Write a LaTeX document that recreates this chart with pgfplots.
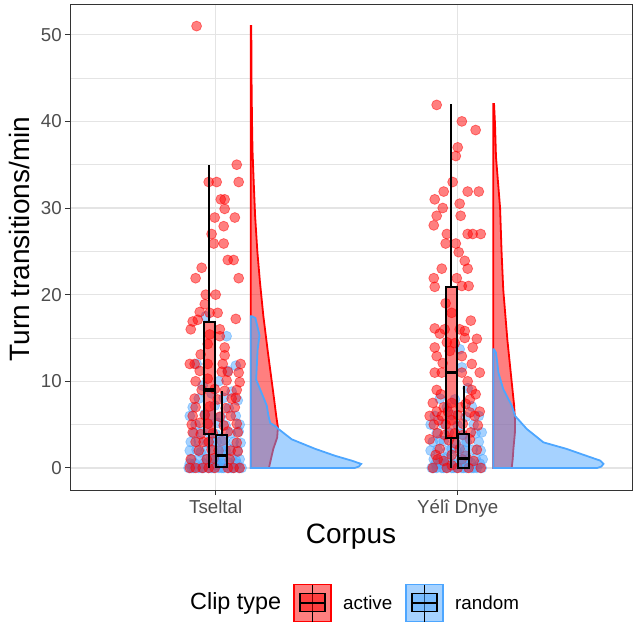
\documentclass[border=0pt]{standalone}
\usepackage{fontspec}
\setmainfont{Liberation Sans}
\usepackage{pgfplots}
\usepackage{pgfplotstable}
\pgfplotsset{compat=1.18}

\definecolor{actred}{RGB}{255,0,0}
\definecolor{randblue}{RGB}{77,166,255}
\definecolor{gridgray}{RGB}{228,228,228}
\definecolor{ticktext}{RGB}{77,77,77}
\definecolor{framegray}{RGB}{51,51,51}

% jittered points: x = category + jitter, y = turn transitions/min
\pgfplotstableread{
x y
0.921 51.0
1.087 35.0
0.971 33.0
1.004 33.0
1.095 33.0
1.021 31.0
1.037 31.0
1.037 29.9
0.996 28.9
1.079 28.9
1.033 27.9
0.983 27.0
0.992 25.9
1.033 25.9
1.050 24.0
1.074 24.0
0.942 23.1
0.917 21.9
1.095 21.9
0.959 20.0
1.000 20.0
0.955 18.9
0.934 18.0
0.975 17.9
1.008 17.9
1.083 17.2
0.926 17.1
0.905 16.9
0.897 16.0
1.017 16.0
0.975 15.4
1.017 15.2
0.967 14.3
1.037 13.9
0.938 13.1
1.037 13.0
0.893 12.0
0.913 12.0
0.967 12.0
1.029 12.0
1.103 12.0
1.025 11.1
1.050 11.1
1.095 11.0
0.934 11.2
0.917 10.0
1.045 10.1
0.967 10.3
1.099 9.9
1.087 9.0
0.942 9.0
0.996 9.1
1.037 8.9
1.066 8.0
1.083 8.1
0.913 8.0
1.008 7.9
0.917 7.0
0.975 7.1
1.079 7.0
1.041 6.9
0.905 6.0
1.062 6.0
0.955 6.1
1.017 5.9
0.967 5.1
1.087 5.1
0.901 5.0
0.934 5.2
1.033 4.9
0.905 4.1
1.091 4.1
0.988 4.0
1.050 4.2
0.938 3.9
0.917 3.0
0.971 3.0
1.025 3.1
1.087 2.9
0.950 3.0
1.062 2.0
0.930 2.0
0.983 2.1
1.091 1.9
1.012 2.0
0.897 1.0
0.963 1.0
1.058 1.0
0.992 1.1
0.893 0.0
0.946 0.0
0.996 0.0
1.050 0.0
1.099 0.0
0.917 0.0
1.074 0.0
0.971 0.0
}\tseltalact

\pgfplotstableread{
x y
0.959 17.5
1.045 15.2
0.921 12.0
1.083 11.8
1.050 11.2
1.012 10.0
0.946 9.5
1.066 8.8
0.983 8.6
0.930 8.0
1.033 8.1
1.091 7.8
0.905 7.0
0.996 7.2
1.054 6.9
0.893 6.0
0.955 6.2
1.021 5.9
1.083 6.0
0.983 6.1
0.917 5.0
0.971 5.1
1.041 4.9
1.099 5.0
1.008 5.2
0.909 4.0
0.942 4.1
1.000 3.9
1.062 4.0
1.095 4.2
0.975 4.0
0.897 3.0
0.930 3.1
0.967 2.9
1.004 3.0
1.037 3.2
1.074 3.0
1.103 2.9
0.988 3.0
0.893 2.0
0.921 2.1
0.959 2.0
0.992 1.9
1.025 2.0
1.058 2.2
1.091 2.0
0.938 1.8
1.041 2.0
0.901 1.0
0.934 1.1
0.963 1.0
0.996 0.9
1.029 1.0
1.066 1.2
1.099 1.0
0.979 1.0
1.012 1.1
1.083 0.9
0.913 0.5
0.950 0.5
0.988 0.4
1.021 0.5
1.054 0.6
1.087 0.5
0.893 0.5
1.004 0.4
0.888 0.0
0.909 0.0
0.930 0.0
0.950 0.0
0.971 0.0
0.992 0.0
1.012 0.0
1.033 0.0
1.054 0.0
1.074 0.0
1.095 0.0
1.107 0.0
0.901 0.0
0.942 0.0
0.983 0.0
1.025 0.0
1.066 0.0
}\tseltalrand

\pgfplotstableread{
x y
1.913 41.9
2.017 40.0
2.074 39.0
2.000 37.0
1.992 36.0
1.979 33.0
1.942 31.9
2.041 31.9
2.087 31.9
1.905 31.0
2.008 30.5
1.938 30.0
1.913 29.1
2.012 29.1
1.901 28.0
1.955 27.0
2.041 27.0
2.062 27.0
2.095 27.0
1.950 25.9
1.992 25.9
2.004 24.9
2.029 23.9
2.041 23.0
1.934 23.0
1.901 21.9
1.996 21.9
1.905 20.9
2.017 21.0
2.045 21.0
1.950 19.0
1.975 17.9
2.054 17.0
1.905 16.1
1.946 16.0
2.008 16.0
2.029 15.8
1.926 15.5
2.029 15.0
2.079 14.9
1.955 14.5
1.988 14.4
1.905 13.9
2.062 13.9
1.967 13.5
1.913 12.9
2.017 12.9
1.938 12.1
2.058 12.0
1.905 11.0
1.934 11.0
2.017 11.0
2.091 11.0
2.041 10.0
1.913 9.0
2.058 9.0
1.930 8.5
2.074 8.5
2.050 7.9
1.897 7.5
1.975 7.5
2.033 7.4
1.942 7.0
2.012 7.0
1.913 6.5
1.959 6.5
2.050 6.4
2.091 6.5
1.884 6.0
1.934 6.0
2.000 6.1
2.070 6.0
1.975 5.5
1.921 5.5
1.901 5.0
1.950 5.0
2.021 5.1
2.083 4.9
1.917 4.0
1.988 4.0
2.054 4.1
2.021 3.8
1.946 3.8
1.884 3.3
2.050 3.3
1.963 3.2
1.992 2.8
1.926 2.2
2.008 2.2
2.079 2.1
1.909 1.5
1.975 1.5
2.033 1.4
2.017 1.0
1.917 1.0
1.942 0.8
2.066 0.8
1.975 0.3
1.897 0.0
1.955 0.0
2.000 0.0
2.045 0.0
2.095 0.0
}\yeliact

\pgfplotstableread{
x y
2.008 13.7
2.017 11.6
2.041 9.2
1.926 8.0
1.988 7.9
1.955 7.0
2.058 7.1
1.905 6.0
1.975 6.1
2.033 5.9
2.087 6.0
1.888 5.0
1.938 5.1
2.000 4.9
2.066 5.0
1.913 4.0
1.963 4.1
2.017 3.9
2.074 4.0
2.099 4.1
1.897 3.0
1.942 3.1
1.988 2.9
2.037 3.0
2.087 3.0
1.926 3.2
1.888 2.0
1.917 2.1
1.959 2.0
1.996 1.9
2.029 2.0
2.062 2.1
2.095 2.0
1.975 2.2
1.901 1.0
1.930 1.1
1.967 1.0
2.004 0.9
2.041 1.0
2.074 1.1
2.103 1.0
1.950 1.2
2.021 1.0
1.909 0.5
1.946 0.5
1.983 0.4
2.017 0.5
2.054 0.6
2.091 0.5
1.926 0.5
1.893 0.0
1.913 0.0
1.934 0.0
1.955 0.0
1.975 0.0
1.996 0.0
2.017 0.0
2.037 0.0
2.058 0.0
2.079 0.0
2.099 0.0
1.901 0.0
1.942 0.0
1.983 0.0
2.025 0.0
2.066 0.0
}\yelirand

\begin{document}
\begin{tikzpicture}[x=1pt,y=1pt]
\useasboundingbox (-70,-131) rectangle (564,490);
\begin{axis}[
  at={(0,0)}, anchor=south west,
  width=562pt, height=486pt, scale only axis,
  clip marker paths=true,
  xmin=0.398, xmax=2.720, ymin=-2.55, ymax=53.55,
  xtick={1,2}, xticklabels={Tseltal, Yélî Dnye},
  ytick={0,10,...,50}, minor ytick={5,15,...,45},
  grid=both,
  major grid style={gridgray, line width=1.4pt},
  minor grid style={gridgray, line width=0.7pt},
  axis line style={framegray, line width=0.9pt},
  tick style={framegray, line width=0.9pt},
  tick align=outside, tick pos=left,
  major tick length=5pt, minor tick length=0pt,
  /pgf/number format/assume math mode=true,
  ticklabel style={font=\fontsize{18.7}{20}\selectfont, text=ticktext, inner sep=0pt},
  yticklabel style={anchor=east, xshift=-3pt},
  xticklabel style={anchor=north, yshift=-5pt},
  xlabel={Corpus}, ylabel={Turn transitions/min},
  label style={font=\fontsize{28}{31}\selectfont, inner sep=0pt},
  xlabel style={at={(axis description cs:0.5,-0.0967)}, anchor=center},
  ylabel style={at={(axis description cs:-0.089,0.516)}, anchor=center},
  boxline/.style={draw=black, line width=2pt, line join=miter},
]
% half violins
\addplot[draw=actred, line width=1.8pt, fill=actred, fill opacity=0.5] coordinates {
(1.145,0) (1.220,0) (1.228,1.0) (1.238,2.2) (1.254,3.5) (1.257,4.7) (1.250,6.0)
(1.241,8.0) (1.232,9.9) (1.214,13.7) (1.197,17.5) (1.183,21.4) (1.172,25.0)
(1.163,29.0) (1.157,33.0) (1.152,36.7) (1.150,40.0) (1.148,45.0) (1.147,51.0) (1.145,51.0)
} -- cycle;
\addplot[draw=randblue, line width=1.8pt, fill=randblue, fill opacity=0.5] coordinates {
(1.145,0) (1.575,0) (1.591,0.15) (1.601,0.46) (1.562,0.84) (1.493,1.4) (1.411,2.2)
(1.314,3.3) (1.259,4.5) (1.252,4.7) (1.225,5.2) (1.218,6.0) (1.211,7.2) (1.183,9.1)
(1.167,10.2) (1.170,11.8) (1.173,13.6) (1.181,15.3) (1.164,17.3) (1.150,17.5) (1.145,17.5)
} -- cycle;
\addplot[draw=actred, line width=1.8pt, fill=actred, fill opacity=0.5] coordinates {
(2.147,0) (2.223,0) (2.227,1.0) (2.230,2.2) (2.236,4.0) (2.237,5.3) (2.233,7.2)
(2.219,11.0) (2.205,14.8) (2.188,20.6) (2.181,25.0) (2.175,30.0) (2.158,35.9)
(2.154,39.7) (2.150,42.0) (2.147,42.0)
} -- cycle;
\addplot[draw=randblue, line width=1.8pt, fill=randblue, fill opacity=0.5] coordinates {
(2.147,0) (2.577,0) (2.593,0.15) (2.602,0.46) (2.589,0.84) (2.531,1.4) (2.449,2.2)
(2.354,2.95) (2.285,4.5) (2.237,6.0) (2.223,7.2) (2.188,9.1) (2.168,11.0)
(2.164,12.0) (2.158,13.3) (2.149,13.7) (2.147,13.7)
} -- cycle;
% jittered points
\addplot[only marks, mark=*, mark size=5pt,
  mark options={draw=randblue, fill=randblue, opacity=0.5, line width=0.7pt}] table {\tseltalrand};
\addplot[only marks, mark=*, mark size=5pt,
  mark options={draw=randblue, fill=randblue, opacity=0.5, line width=0.7pt}] table {\yelirand};
\addplot[only marks, mark=*, mark size=5pt,
  mark options={draw=actred, fill=actred, opacity=0.5, line width=0.7pt}] table {\tseltalact};
\addplot[only marks, mark=*, mark size=5pt,
  mark options={draw=actred, fill=actred, opacity=0.5, line width=0.7pt}] table {\yeliact};
% boxplots: whiskers, boxes (Q1..Q3), medians
\addplot[boxline] coordinates {(0.973,0) (0.973,3.9)};
\addplot[boxline] coordinates {(0.973,16.9) (0.973,35)};
\addplot[boxline, fill=actred, fill opacity=0.5] coordinates {(0.950,3.9) (0.996,3.9) (0.996,16.9) (0.950,16.9)} -- cycle;
\addplot[draw=black, line width=3.2pt] coordinates {(0.950,9.0) (0.996,9.0)};
\addplot[boxline] coordinates {(1.024,3.8) (1.024,8.9)};
\addplot[boxline, fill=randblue, fill opacity=0.5] coordinates {(1.001,0.15) (1.047,0.15) (1.047,3.8) (1.001,3.8)} -- cycle;
\addplot[draw=black, line width=3.2pt] coordinates {(1.001,1.4) (1.047,1.4)};
\addplot[boxline] coordinates {(1.974,0) (1.974,3.4)};
\addplot[boxline] coordinates {(1.974,20.9) (1.974,42)};
\addplot[boxline, fill=actred, fill opacity=0.5] coordinates {(1.951,3.4) (1.997,3.4) (1.997,20.9) (1.951,20.9)} -- cycle;
\addplot[draw=black, line width=3.2pt] coordinates {(1.951,11.0) (1.997,11.0)};
\addplot[boxline] coordinates {(2.024,3.9) (2.024,9.5)};
\addplot[boxline, fill=randblue, fill opacity=0.5] coordinates {(2.001,0) (2.047,0) (2.047,3.9) (2.001,3.9)} -- cycle;
\addplot[draw=black, line width=3.2pt] coordinates {(2.001,1.1) (2.047,1.1)};
\end{axis}
% legend
\node[anchor=west, inner sep=0pt, font=\fontsize{23.4}{26}\selectfont] at (120,-113) {Clip type};
\draw[actred, line width=1.5pt, fill=actred, fill opacity=0.5] (224,-131.5) rectangle (261,-94.5);
\draw[black, line width=1.3pt] (242.5,-131.5) -- (242.5,-94.5);
\draw[black, line width=1.3pt, fill=actred, fill opacity=0.5] (230,-121.7) rectangle (255,-103.3);
\draw[black, line width=2pt] (230,-112.7) -- (255,-112.7);
\node[anchor=west, inner sep=0pt, font=\fontsize{18.8}{22}\selectfont] at (273,-113) {active};
\draw[randblue, line width=1.5pt, fill=randblue, fill opacity=0.5] (336,-131.5) rectangle (373,-94.5);
\draw[black, line width=1.3pt] (354.5,-131.5) -- (354.5,-94.5);
\draw[black, line width=1.3pt, fill=randblue, fill opacity=0.5] (342,-121.7) rectangle (367,-103.3);
\draw[black, line width=2pt] (342,-112.7) -- (367,-112.7);
\node[anchor=west, inner sep=0pt, font=\fontsize{18.8}{22}\selectfont] at (385,-113) {random};
\end{tikzpicture}
\end{document}
